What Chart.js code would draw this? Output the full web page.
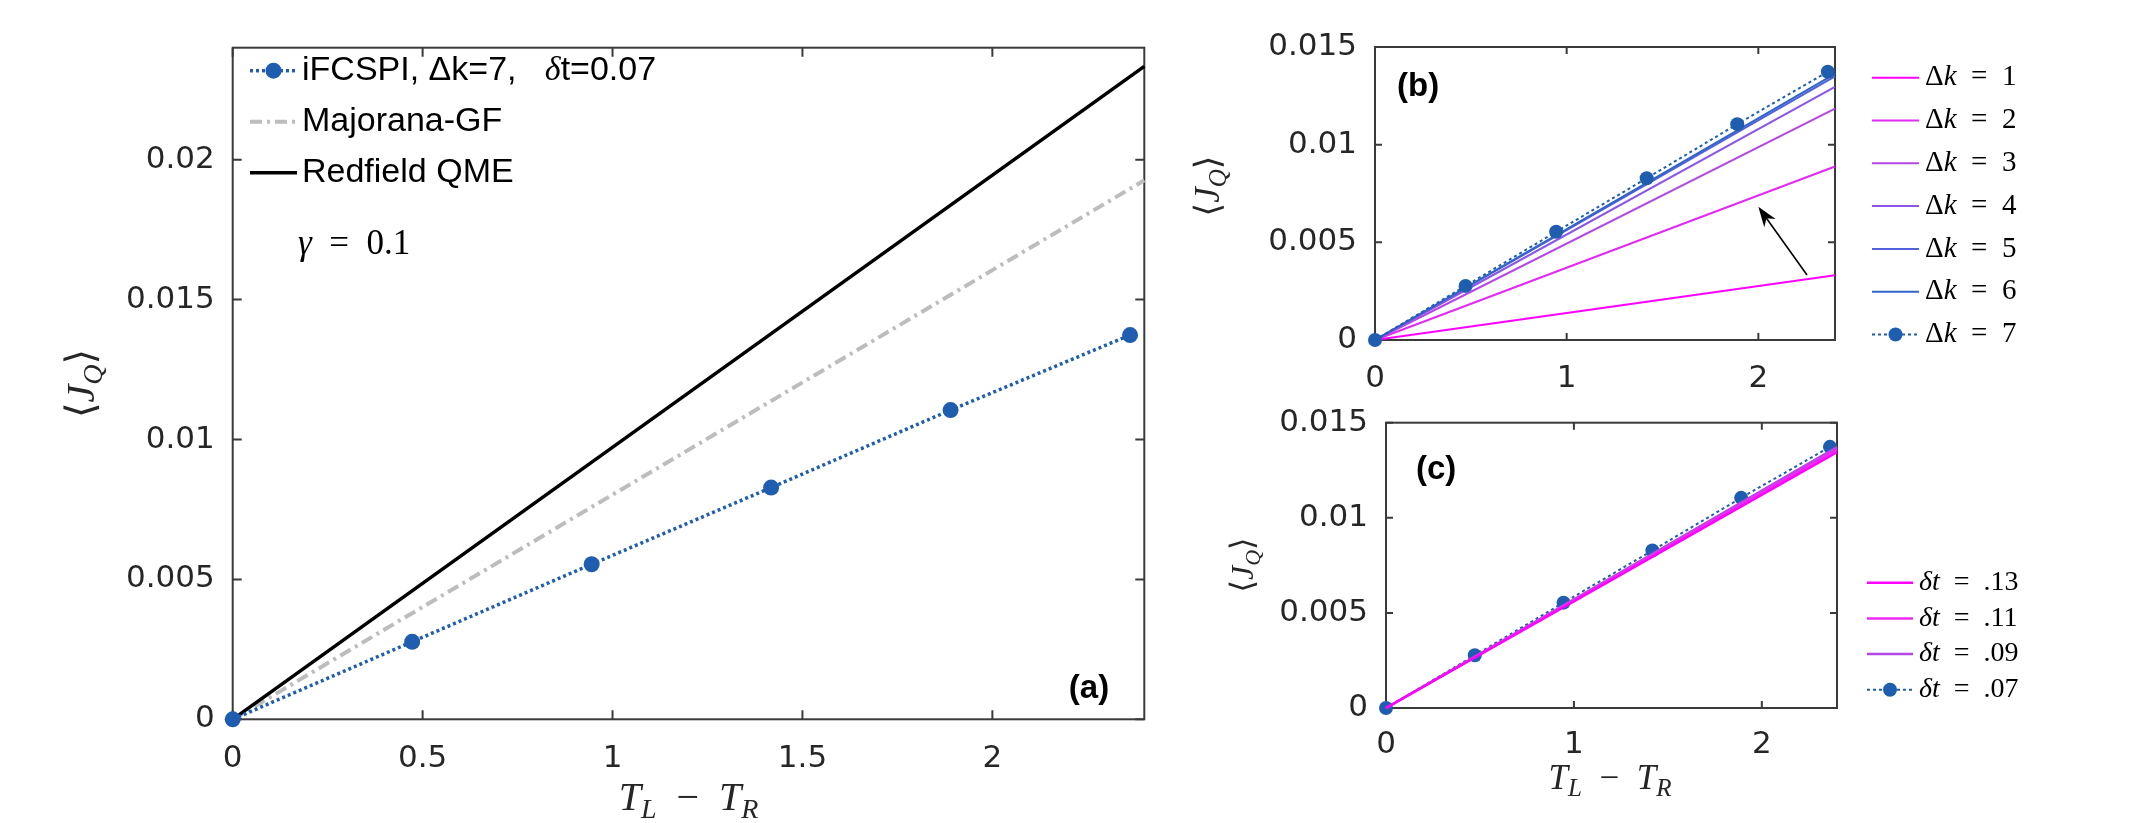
<!DOCTYPE html>
<html>
<head>
<meta charset="utf-8">
<script src="https://cdn.jsdelivr.net/npm/chart.js@4.4.1/dist/chart.umd.min.js"></script>
<style>
  html, body { margin: 0; padding: 0; background: #fff; }
  #wrap { position: relative; width: 2146px; height: 823px; }
  #wrap canvas { position: absolute; left: 0; top: 0; }
</style>
</head>
<body>
<div id="wrap">
  <canvas id="panelA" width="2146" height="823"></canvas>
  <canvas id="panelB" width="2146" height="823"></canvas>
  <canvas id="panelC" width="2146" height="823"></canvas>
</div>
<script>
// ---- data ----
const tempDiff = [0, 0.4725, 0.945, 1.4175, 1.89, 2.3625];
const ifcspiCurrent = [0, 0.00277, 0.00554, 0.00828, 0.01105, 0.01373];

const lineX = [0, 2.4];
const redfieldCurrent = [0, 0.02333];
const majoranaCurrent = [0, 0.01926];

const dk1Current = [0, 0.00331];
const dk2Current = [0, 0.00888];
const dk3Current = [0, 0.01184];
const dk4Current = [0, 0.01296];
const dk5Current = [0, 0.01350];
const dk6Current = [0, 0.01362];

const dt13Current = [0, 0.01345];
const dt11Current = [0, 0.01360];
const dt09Current = [0, 0.01372];

const arrowFrom = [2.254, 0.00333];
const arrowTo = [2.0, 0.00682];

const xTicksA = [0, 0.5, 1, 1.5, 2];
const yTicksA = [0, 0.005, 0.01, 0.015, 0.02];
const xTicksSmall = [0, 1, 2];
const yTicksSmall = [0, 0.005, 0.01, 0.015];

// ---- styling ----
const SERIF = '"Liberation Serif", "DejaVu Serif", serif';
const SANS = '"Liberation Sans", Arial, sans-serif';
const INK = '#262626';
const BLUE = '#1f5eae';
const TICK_FONT = { family: '"DejaVu Sans", sans-serif', size: 31 };
const EN = '\u2002';

function fontOf(p, size) {
  const s = p.sub ? Math.round(size * 0.7) : size;
  return (p.it ? 'italic ' : '') + (p.b ? 'bold ' : '') + s + 'px ' + (p.f || SERIF);
}

function drawRich(ctx, parts, x, y, size, align, color) {
  ctx.save();
  ctx.fillStyle = color || '#000';
  ctx.textAlign = 'left';
  ctx.textBaseline = 'middle';
  let w = 0;
  parts.forEach(p => { ctx.font = fontOf(p, size); w += ctx.measureText(p.t).width; });
  let cx = align === 'center' ? x - w / 2 : x;
  parts.forEach(p => {
    ctx.font = fontOf(p, size);
    ctx.fillText(p.t, cx, p.sub ? y + size * 0.28 : y);
    cx += ctx.measureText(p.t).width;
  });
  ctx.restore();
}

const xTitleParts = [{ t: 'T', it: 1 }, { t: 'L', it: 1, sub: 1 }, { t: EN + '−' + EN }, { t: 'T', it: 1 }, { t: 'R', it: 1, sub: 1 }];
const yTitleParts = [{ t: '⟨' }, { t: 'J', it: 1 }, { t: 'Q', it: 1, sub: 1 }, { t: '⟩' }];
const dkKey = n => [{ t: 'Δ' }, { t: 'k', it: 1 }, { t: EN + '=' + EN + n }];
const dtKey = n => [{ t: 'δ', it: 1 }, { t: 't', it: 1 }, { t: EN + '=' + EN + n }];

// frame, inward ticks, titles, legend, labels, arrow
const decor = {
  id: 'decor',
  beforeDatasetsDraw(chart, args, o) {
    const ctx = chart.ctx, a = chart.chartArea, xs = chart.scales.x, ys = chart.scales.y;
    ctx.save();
    ctx.strokeStyle = '#3a3a3a';
    ctx.lineWidth = 2;
    ctx.strokeRect(a.left, a.top, a.right - a.left, a.bottom - a.top);
    ctx.beginPath();
    xs.ticks.forEach(t => {
      const px = xs.getPixelForValue(t.value);
      ctx.moveTo(px, a.bottom); ctx.lineTo(px, a.bottom - o.tickLen);
      ctx.moveTo(px, a.top); ctx.lineTo(px, a.top + o.tickLen);
    });
    ys.ticks.forEach(t => {
      const py = ys.getPixelForValue(t.value);
      ctx.moveTo(a.left, py); ctx.lineTo(a.left + o.tickLen, py);
      ctx.moveTo(a.right, py); ctx.lineTo(a.right - o.tickLen, py);
    });
    ctx.stroke();
    ctx.restore();
  },
  afterDraw(chart, args, o) {
    const ctx = chart.ctx, xs = chart.scales.x, ys = chart.scales.y;
    if (o.xTitle) drawRich(ctx, xTitleParts, o.xTitle.x, o.xTitle.y, o.xTitle.size, 'center', INK);
    if (o.yTitle) {
      ctx.save();
      ctx.translate(o.yTitle.x, o.yTitle.y);
      ctx.rotate(-Math.PI / 2);
      drawRich(ctx, yTitleParts, 0, 0, o.yTitle.size, 'center', INK);
      ctx.restore();
    }
    const k = o.key;
    chart.data.datasets.forEach((ds, i) => {
      const y = k.y + i * k.dy;
      ctx.save();
      ctx.strokeStyle = ds.borderColor;
      ctx.lineWidth = ds.borderWidth;
      ctx.setLineDash(ds.borderDash || []);
      ctx.beginPath(); ctx.moveTo(k.x, y); ctx.lineTo(k.x + k.len, y); ctx.stroke();
      if (ds.pointRadius) {
        ctx.fillStyle = ds.pointBackgroundColor;
        ctx.beginPath(); ctx.arc(k.x + k.len / 2, y, ds.pointRadius, 0, Math.PI * 2); ctx.fill();
      }
      ctx.restore();
      drawRich(ctx, ds.keyParts, k.x + k.len + k.gap, y, k.size, 'left', '#000');
    });
    (o.notes || []).forEach(n => drawRich(ctx, n.parts, n.x, n.y, n.size, n.align, '#000'));
    if (o.arrow) {
      const x1 = xs.getPixelForValue(o.arrow.from[0]), y1 = ys.getPixelForValue(o.arrow.from[1]);
      const x2 = xs.getPixelForValue(o.arrow.to[0]), y2 = ys.getPixelForValue(o.arrow.to[1]);
      const ang = Math.atan2(y2 - y1, x2 - x1), hl = 20, hw = 7;
      ctx.save();
      ctx.strokeStyle = '#000'; ctx.fillStyle = '#000'; ctx.lineWidth = 1.6;
      ctx.beginPath(); ctx.moveTo(x1, y1);
      ctx.lineTo(x2 - Math.cos(ang) * hl * 0.7, y2 - Math.sin(ang) * hl * 0.7); ctx.stroke();
      ctx.beginPath();
      ctx.moveTo(x2, y2);
      ctx.lineTo(x2 - Math.cos(ang) * hl - Math.sin(ang) * hw, y2 - Math.sin(ang) * hl + Math.cos(ang) * hw);
      ctx.lineTo(x2 - Math.cos(ang) * hl * 0.7, y2 - Math.sin(ang) * hl * 0.7);
      ctx.lineTo(x2 - Math.cos(ang) * hl + Math.sin(ang) * hw, y2 - Math.sin(ang) * hl - Math.cos(ang) * hw);
      ctx.closePath(); ctx.fill();
      ctx.restore();
    }
  }
};

const pts = (xs, ys) => xs.map((x, i) => ({ x, y: ys[i] }));
const fmt = v => String(Number(Number(v).toFixed(4)));

function solid(data, color, width, keyParts, order) {
  return { data, keyParts, showLine: true, borderColor: color, backgroundColor: color,
    borderWidth: width, pointRadius: 0, clip: false, order };
}
function dotted(data, radius, keyParts, order) {
  return { data, keyParts, showLine: true, borderColor: BLUE, backgroundColor: BLUE,
    borderWidth: 3.5, borderDash: [3, 3], pointRadius: radius, pointBackgroundColor: BLUE,
    pointBorderWidth: 0, clip: false, order };
}

function panel(id, datasets, c) {
  return new Chart(document.getElementById(id), {
    type: 'scatter',
    data: { datasets },
    options: {
      responsive: false,
      animation: false,
      events: [],
      layout: { padding: c.pad },
      plugins: { legend: { display: false }, tooltip: { enabled: false }, decor: c.decor },
      scales: {
        x: {
          type: 'linear', min: 0, max: 2.4,
          grid: { display: false, drawTicks: false }, border: { display: false },
          ticks: { font: TICK_FONT, color: INK, padding: c.xPad, maxRotation: 0, autoSkip: false, callback: fmt },
          afterBuildTicks: s => { s.ticks = c.xTicks.map(v => ({ value: v })); },
          afterFit: s => { s.height = c.xH; }
        },
        y: {
          type: 'linear', min: 0, max: c.yMax,
          grid: { display: false, drawTicks: false }, border: { display: false },
          ticks: { font: TICK_FONT, color: INK, padding: c.yPad, autoSkip: false, callback: fmt },
          afterBuildTicks: s => { s.ticks = c.yTicks.map(v => ({ value: v })); },
          afterFit: s => { s.width = c.yW; }
        }
      }
    },
    plugins: [decor]
  });
}

// (a)
panel('panelA', [
  dotted(pts(tempDiff, ifcspiCurrent), 8,
    [{ t: 'iFCSPI, Δk=7,   ', f: SANS }, { t: 'δ', it: 1 }, { t: 't=0.07', f: SANS }], 0),
  Object.assign(solid(pts(lineX, majoranaCurrent), '#bdbdbd', 4, [{ t: 'Majorana-GF', f: SANS }], 2),
    { borderDash: [12, 5, 3, 5] }),
  solid(pts(lineX, redfieldCurrent), '#000', 3.5, [{ t: 'Redfield QME', f: SANS }], 1)
], {
  pad: { left: 0, top: 47.7, right: 1001.7, bottom: 0 },
  xH: 103.7, yW: 232.7, yMax: 0.024, xPad: 21, yPad: 18,
  xTicks: xTicksA, yTicks: yTicksA,
  decor: {
    tickLen: 9,
    xTitle: { x: 688.5, y: 799, size: 40 },
    yTitle: { x: 83, y: 383.5, size: 40 },
    key: { x: 250, y: 70.7, dy: 51, len: 47, gap: 5, size: 34 },
    notes: [
      { parts: [{ t: 'γ', it: 1 }, { t: EN + '=' + EN + '0.1' }], x: 298, y: 245, size: 35, align: 'left' },
      { parts: [{ t: '(a)', b: 1, f: SANS }], x: 1089, y: 689, size: 33, align: 'center' }
    ]
  }
});

// (b)
panel('panelB', [
  solid(pts(lineX, dk1Current), '#ff00ff', 2, dkKey(1), 6),
  solid(pts(lineX, dk2Current), '#e22af0', 2, dkKey(2), 5),
  solid(pts(lineX, dk3Current), '#b447e6', 2, dkKey(3), 4),
  solid(pts(lineX, dk4Current), '#8a55e8', 2, dkKey(4), 3),
  solid(pts(lineX, dk5Current), '#5260dc', 2, dkKey(5), 2),
  solid(pts(lineX, dk6Current), '#2f64c8', 2, dkKey(6), 1),
  Object.assign(dotted(pts(tempDiff, ifcspiCurrent), 7, dkKey(7), 0), { borderWidth: 2 })
], {
  pad: { left: 0, top: 47, right: 311, bottom: 0 },
  xH: 483, yW: 1375, yMax: 0.015, xPad: 20, yPad: 18,
  xTicks: xTicksSmall, yTicks: yTicksSmall,
  decor: {
    tickLen: 7,
    yTitle: { x: 1210, y: 186, size: 35 },
    key: { x: 1872, y: 77.7, dy: 42.8, len: 47, gap: 6, size: 29 },
    notes: [{ parts: [{ t: '(b)', b: 1, f: SANS }], x: 1397, y: 87, size: 33, align: 'left' }],
    arrow: { from: arrowFrom, to: arrowTo }
  }
});

// (c)
panel('panelC', [
  solid(pts(lineX, dt13Current), '#ff00ff', 2.5, dtKey('.13'), 0),
  solid(pts(lineX, dt11Current), '#ec2cf2', 2.5, dtKey('.11'), 1),
  solid(pts(lineX, dt09Current), '#b447e6', 2.5, dtKey('.09'), 2),
  Object.assign(dotted(pts(tempDiff, ifcspiCurrent), 7, dtKey('.07'), 3), { borderWidth: 2 })
], {
  pad: { left: 0, top: 422.7, right: 309, bottom: 0 },
  xH: 115, yW: 1386, yMax: 0.015, xPad: 18, yPad: 18,
  xTicks: xTicksSmall, yTicks: yTicksSmall,
  decor: {
    tickLen: 7,
    xTitle: { x: 1610, y: 780, size: 35 },
    yTitle: { x: 1245, y: 565, size: 32 },
    key: { x: 1867, y: 582.7, dy: 35.7, len: 46, gap: 6, size: 28 },
    notes: [{ parts: [{ t: '(c)', b: 1, f: SANS }], x: 1416, y: 470, size: 33, align: 'left' }]
  }
});
</script>
</body>
</html>
